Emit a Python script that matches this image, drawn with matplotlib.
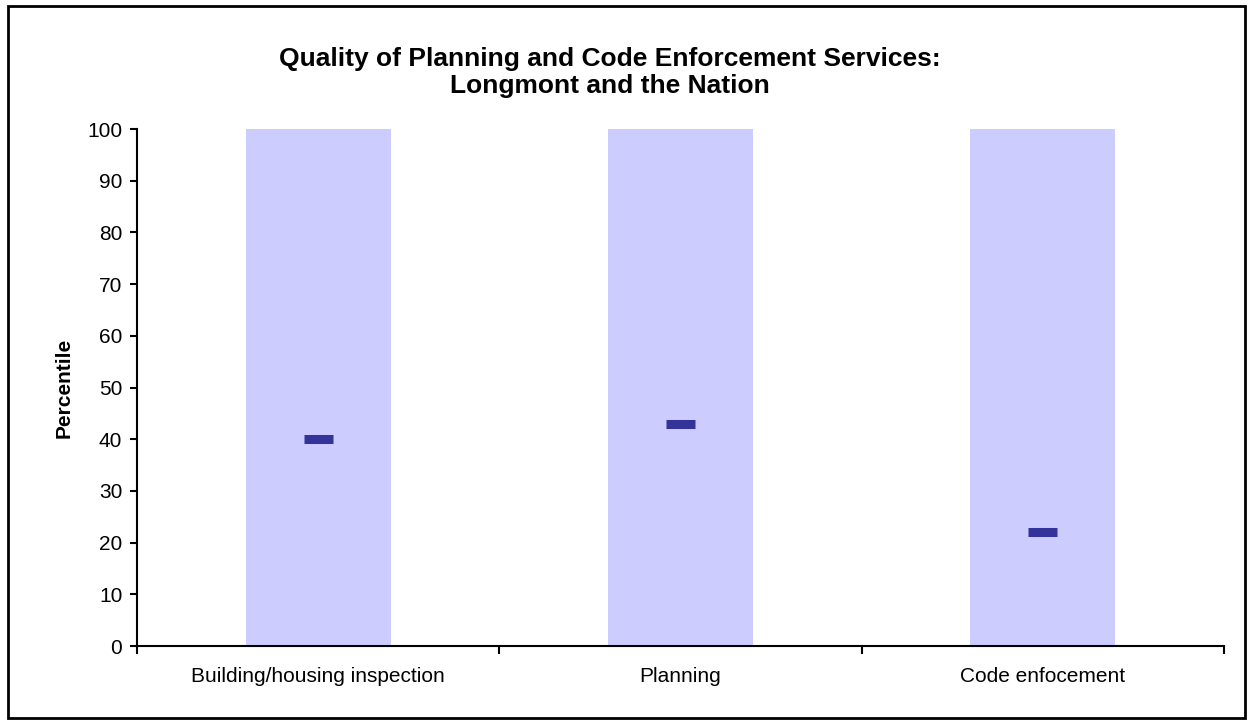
import numpy as np
import matplotlib.pyplot as plt
from matplotlib.patches import Rectangle

plt.rcParams['font.family'] = ['Liberation Sans', 'DejaVu Sans']

categories = ['Building/housing inspection', 'Planning', 'Code enfocement']
range_top = [100, 100, 100]
percentile = [40, 43, 22]

fig = plt.figure(figsize=[12.53, 7.24], dpi=100)
ax = fig.add_axes([0.1093, 0.1077, 0.8675, 0.7141])

x = np.arange(len(categories))
ax.bar(x, range_top, width=0.4, color='#CCCCFF', zorder=1)

# short horizontal dash for the city's percentile
for xi, p in zip(x, percentile):
    ax.plot([xi - 0.04, xi + 0.04], [p, p], color='#333399', lw=6.5,
            solid_capstyle='butt', zorder=3)

ax.set_xlim(-0.5, len(categories) - 0.5)
ax.set_ylim(0, 100)
ax.set_yticks(np.arange(0, 101, 10))
ax.set_xticks(x)
ax.set_xticklabels(categories)
ax.set_xticks(np.arange(-0.5, len(categories)), minor=True)
ax.tick_params(axis='x', which='major', length=0, pad=15, labelsize=15)
ax.tick_params(axis='x', which='minor', length=6, width=1.5, direction='out')
ax.tick_params(axis='y', length=5, width=1.5, direction='out', labelsize=15, pad=5.5)

for side in ['top', 'right']:
    ax.spines[side].set_visible(False)
for side in ['left', 'bottom']:
    ax.spines[side].set_linewidth(1.5)

ax.set_ylabel('Percentile', fontsize=15, fontweight='bold', labelpad=10)

fig.text(0.487, 0.900, 'Quality of Planning and Code Enforcement Services:\nLongmont and the Nation',
         ha='center', va='center', fontsize=19, fontweight='bold', linespacing=1.17)

# outer chart border
fig.patches.append(Rectangle((0.0064, 0.0083), 0.987, 0.983, transform=fig.transFigure,
                             fill=False, edgecolor='black', linewidth=2))

fig.savefig('out.png', dpi=100)
